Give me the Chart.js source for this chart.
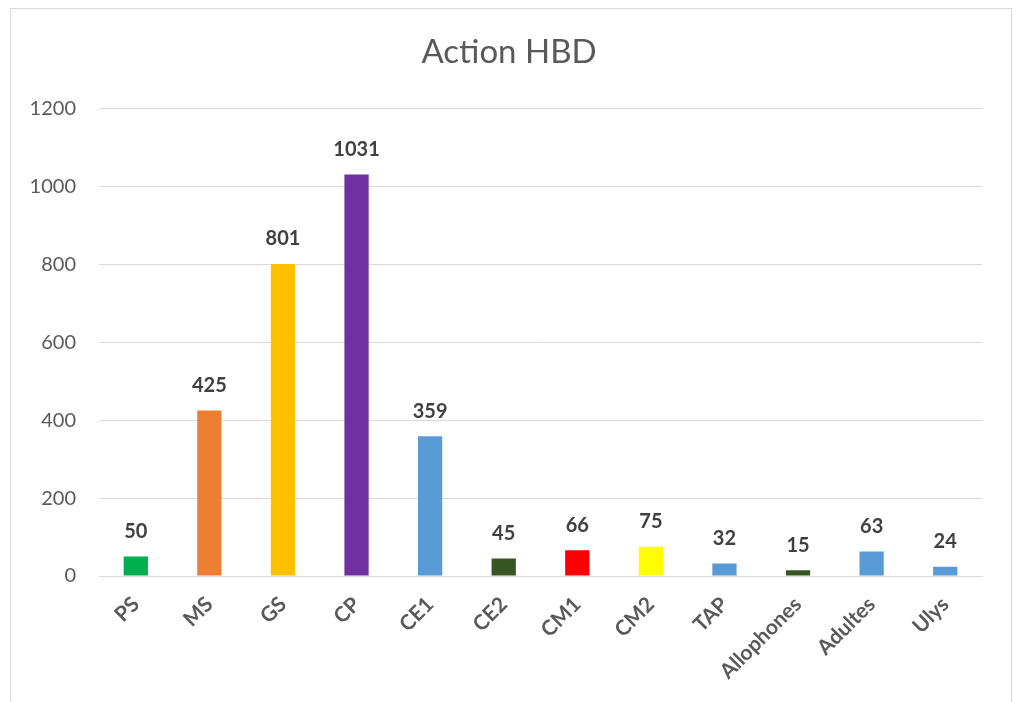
<!DOCTYPE html>
<html>
<head>
<meta charset="utf-8">
<script src="https://cdn.jsdelivr.net/npm/chart.js@4.4.1/dist/chart.umd.min.js"></script>
<style>
  html, body { margin: 0; padding: 0; background: #fff; }
  #frame { position: absolute; left: 10px; top: 8px; width: 1000px; height: 740px; border: 1px solid #d9d9d9; }
  #chart { position: absolute; left: 0; top: 0; }
</style>
</head>
<body>
<div id="frame"></div>
<canvas id="chart" width="1018" height="702"></canvas>
<script>
// categories + values
const labels = ['PS', 'MS', 'GS', 'CP', 'CE1', 'CE2', 'CM1', 'CM2', 'TAP', 'Allophones', 'Adultes', 'Ulys'];
const values = [50, 425, 801, 1031, 359, 45, 66, 75, 32, 15, 63, 24];
const barColors = [
  '#00b050', '#ed7d31', '#ffc000', '#7030a0', '#5b9bd5', '#375623',
  '#ff0000', '#ffff00', '#5b9bd5', '#375623', '#5b9bd5', '#5b9bd5'
];
const yTicks = [0, 200, 400, 600, 800, 1000, 1200];

const FONT = 'Lato, "Open Sans", sans-serif';

// value labels above each bar
const valueLabels = {
  id: 'valueLabels',
  afterDatasetsDraw(chart) {
    const ctx = chart.ctx;
    const meta = chart.getDatasetMeta(0);
    ctx.save();
    ctx.font = 'bold 20px ' + FONT;
    ctx.fillStyle = '#404040';
    ctx.textAlign = 'center';
    ctx.textBaseline = 'middle';
    meta.data.forEach((bar, i) => {
      ctx.fillText(String(values[i]), bar.x, bar.y - 25);
    });
    ctx.restore();
  }
};

new Chart(document.getElementById('chart'), {
  type: 'bar',
  data: {
    labels: labels,
    datasets: [{
      data: values,
      backgroundColor: barColors,
      borderWidth: 0,
      categoryPercentage: 1,
      barPercentage: 0.33,
    }]
  },
  options: {
    responsive: false,
    animation: false,
    // symmetric padding keeps the title centred on the canvas
    layout: { padding: { left: 18, right: 18, top: 0, bottom: 0 } },
    plugins: {
      legend: { display: false },
      tooltip: { enabled: false },
      title: {
        display: true,
        text: 'Action HBD',
        color: '#595959',
        font: { family: FONT, size: 33, weight: 'normal' },
        padding: { top: 33, bottom: 36 }
      }
    },
    scales: {
      x: {
        grid: { display: false, drawTicks: false },
        border: { display: true, color: '#d9d9d9', width: 1 },
        ticks: {
          color: '#595959',
          font: { family: FONT, size: 21, weight: 'bold' },
          minRotation: 45,
          maxRotation: 45,
          padding: 16,
          autoSkip: false
        },
        afterFit(scale) { scale.height = 126; }
      },
      y: {
        min: 0,
        max: 1200,
        afterBuildTicks(scale) { scale.ticks = yTicks.map(v => ({ value: v })); },
        grid: { color: '#d9d9d9', lineWidth: 1, drawTicks: false },
        border: { display: false },
        ticks: {
          color: '#595959',
          font: { family: FONT, size: 20 },
          padding: 23,
          callback: (v) => String(v)
        },
        afterFit(scale) { scale.width = 81; }
      },
      // empty spacer on the right so the plot ends where the reference does
      spacer: {
        type: 'linear',
        position: 'right',
        display: true,
        grid: { display: false, drawTicks: false },
        border: { display: false },
        ticks: { display: false },
        afterFit(scale) { scale.width = 18; }
      }
    }
  },
  plugins: [valueLabels]
});
</script>
</body>
</html>
